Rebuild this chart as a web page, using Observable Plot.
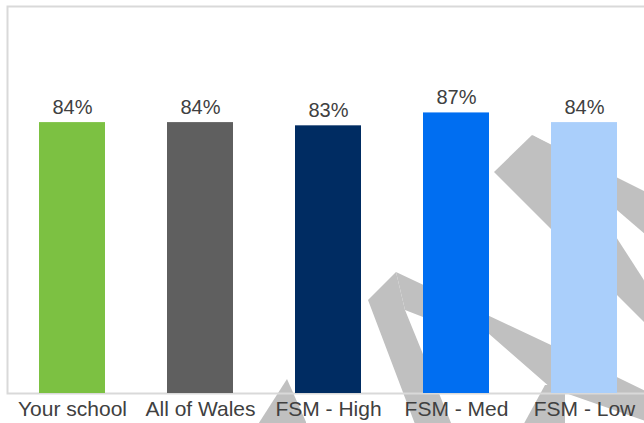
<!DOCTYPE html>
<html>
<head>
<meta charset="utf-8">
<script src="https://cdn.jsdelivr.net/npm/d3@7"></script>
<script src="https://cdn.jsdelivr.net/npm/@observablehq/plot@0.6"></script>
<style>
  body { margin: 0; background: #fff; }
  #chart { width: 644px; height: 423px; overflow: hidden; }
</style>
</head>
<body>
<div id="chart"></div>
<script>
// Share of pupils, by comparison group
const categories = ["Your school", "All of Wales", "FSM - High", "FSM - Med", "FSM - Low"];
const values = [84, 84, 83, 87, 84];

// Bar colours, one per group
const palette = ["#7cc142", "#5f5f5f", "#002c62", "#006ef1", "#aacffb"];

const rows = categories.map((category, i) => ({category, value: values[i]}));

// Grey logo watermark printed behind the chart
const watermarkShapes = [
  "M287,379 L306,422 L306,440 L248,440 Z",
  "M368,300 L396,272 L405,310 L458,440 L421,440 Z",
  "M396,272 L551,345 L660,398 L660,426 L551,388 L488,333 L423,317 L405,310 Z",
  "M545,385 L565,385 L565,440 L515,440 Z",
  "M532,135 L660,199 L660,247 L560,161 Z",
  "M494,172 L532,135 L560,150 L660,305 L660,338 Z"
];

function watermark() {
  const g = d3.create("svg:g").attr("fill", "#c0c0c0");
  for (const d of watermarkShapes) g.append("path").attr("d", d);
  return g.node();
}

const chart = Plot.plot({
  width: 644,
  height: 423,
  marginTop: 6,
  marginLeft: 7,
  marginRight: -4,
  marginBottom: 30,
  style: {
    fontFamily: "'Liberation Sans', Arial, sans-serif",
    fontSize: "20px",
    color: "#404040",
    background: "transparent",
    overflow: "hidden"
  },
  x: {domain: categories, paddingInner: 0.486, paddingOuter: 0.243},
  y: {domain: [0, 120], axis: null},
  color: {domain: categories, range: palette},
  marks: [
    watermark,
    Plot.frame({stroke: "#d9d9d9", strokeWidth: 2}),
    Plot.barY(rows, {x: "category", y: "value", fill: "category"}),
    Plot.text(rows, {
      x: "category",
      y: "value",
      text: d => `${d.value}%`,
      lineAnchor: "bottom",
      dy: -8.5,
      fill: "#404040",
      fontSize: 20
    }),
    Plot.axisX({tickSize: 0, tickPadding: 7.5, fontSize: 21, fill: "#404040", label: null})
  ]
});

document.getElementById("chart").append(chart);
</script>
</body>
</html>
